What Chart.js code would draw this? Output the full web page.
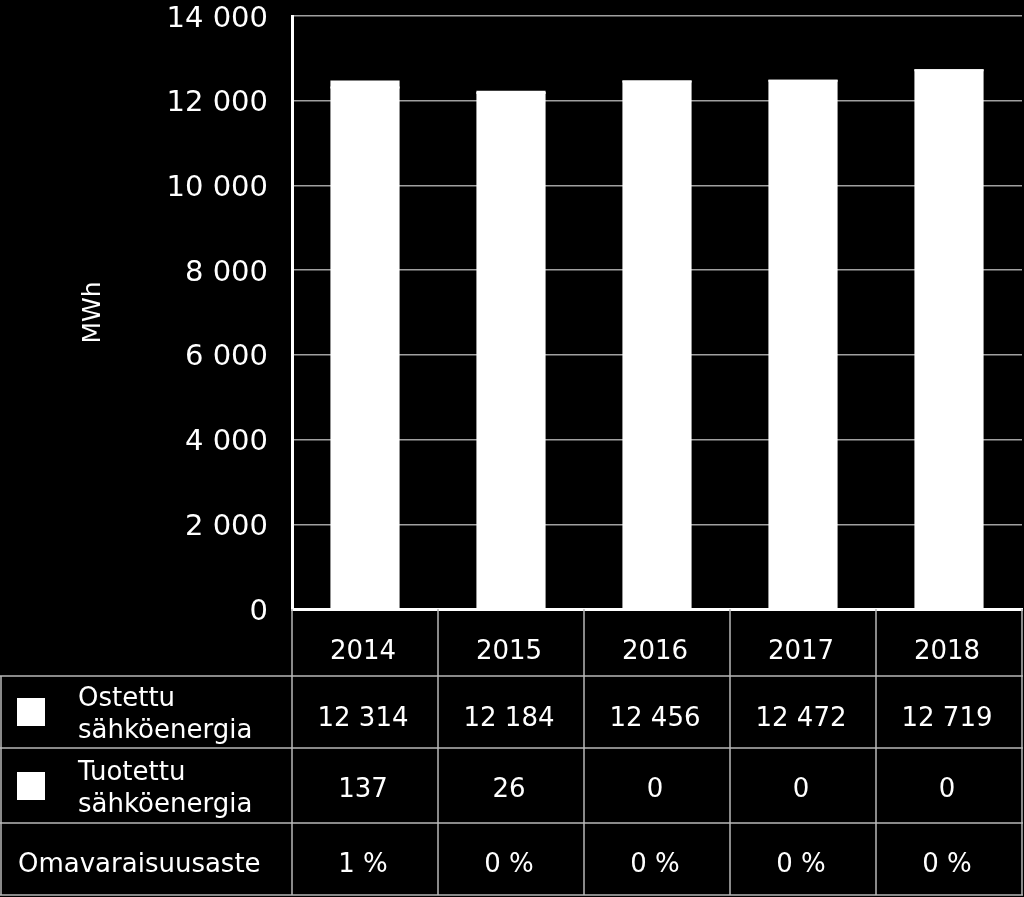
<!DOCTYPE html>
<html>
<head>
<meta charset="utf-8">
<script src="https://cdn.jsdelivr.net/npm/chart.js@4"></script>
<style>
html,body{margin:0;padding:0;background:#000;}
#wrap{width:1024px;height:897px;position:relative;}
</style>
</head>
<body>
<div id="wrap"><canvas id="c"></canvas></div>
<script>
const years = ['2014', '2015', '2016', '2017', '2018'];
const ostettu = [12314, 12184, 12456, 12472, 12719];
const tuotettu = [137, 26, 0, 0, 0];
const omavaraisuus = [1, 0, 0, 0, 0];
const yMin = 0, yMax = 14000, yStep = 2000;
const seriesLabels = [['Ostettu', 'sähköenergia'], ['Tuotettu', 'sähköenergia']];
const row3Label = 'Omavaraisuusaste';
const yTitle = 'MWh';

const FONT = 'DejaVu Sans';
function fmt(n) { return String(n).replace(/\B(?=(\d{3})+(?!\d))/g, ' '); }

const tablePlugin = {
  id: 'dataTable',
  afterDraw(chart) {
    const { ctx, chartArea: { left, right, bottom } } = chart;
    const x = chart.scales.x;
    const n = years.length;
    const cw = (right - left) / n;
    const rl = [bottom + 67, bottom + 139, bottom + 214, bottom + 286];
    ctx.save();
    ctx.strokeStyle = '#b8b8b8';
    ctx.lineWidth = 1.5;
    ctx.beginPath();
    rl.forEach(y => { ctx.moveTo(0, y); ctx.lineTo(right + 1, y); });
    for (let i = 0; i <= n; i++) {
      const vx = left + i * cw;
      ctx.moveTo(vx, bottom); ctx.lineTo(vx, rl[3]);
    }
    ctx.moveTo(1, rl[0]); ctx.lineTo(1, rl[3]);
    ctx.stroke();

    ctx.fillStyle = '#ffffff';
    ctx.textBaseline = 'middle';
    ctx.font = '26px "' + FONT + '"';
    ctx.textAlign = 'center';
    for (let i = 0; i < n; i++) {
      const cx = x.getPixelForValue(i) - 2;
      ctx.fillText(years[i], cx, bottom + 43);
      ctx.fillText(fmt(ostettu[i]), cx, bottom + 110);
      ctx.fillText(fmt(tuotettu[i]), cx, bottom + 181);
      ctx.fillText(omavaraisuus[i] + ' %', cx, bottom + 256);
    }
    ctx.textAlign = 'left';
    ctx.fillText(seriesLabels[0][0], 78, bottom + 90);
    ctx.fillText(seriesLabels[0][1], 78, bottom + 122);
    ctx.fillText(seriesLabels[1][0], 78, bottom + 164);
    ctx.fillText(seriesLabels[1][1], 78, bottom + 196);
    ctx.fillText(row3Label, 18, bottom + 256);
    ctx.fillRect(17, bottom + 89, 28, 28);
    ctx.fillRect(17, bottom + 163, 28, 28);
    ctx.restore();
  }
};

new Chart(document.getElementById('c'), {
  type: 'bar',
  data: {
    labels: years,
    datasets: [
      { label: seriesLabels[0].join(' '), data: ostettu, backgroundColor: '#ffffff', borderWidth: 0, inflateAmount: 1 },
      { label: seriesLabels[1].join(' '), data: tuotettu, backgroundColor: '#ffffff', borderWidth: 0, inflateAmount: 1 }
    ]
  },
  options: {
    responsive: true,
    maintainAspectRatio: false,
    animation: false,
    layout: { padding: { top: 16, right: 2, left: 0, bottom: 0 } },
    datasets: { bar: { barPercentage: 0.46, categoryPercentage: 1 } },
    plugins: { legend: { display: false }, tooltip: { enabled: false } },
    scales: {
      x: {
        stacked: true,
        grid: { display: false, drawTicks: false },
        border: { color: '#ffffff', width: 3 },
        ticks: { display: false },
        afterFit: s => { s.height = 288; s.paddingLeft = 0; s.paddingRight = 0; }
      },
      y: {
        stacked: true,
        min: yMin, max: yMax,
        ticks: {
          stepSize: yStep,
          color: '#ffffff',
          font: { family: FONT, size: 29 },
          padding: 24,
          labelOffset: 3,
          callback: v => fmt(v)
        },
        grid: { color: '#a0a0a0', lineWidth: 1.5, drawTicks: false },
        border: { color: '#ffffff', width: 3 },
        title: {
          display: true, text: yTitle, color: '#ffffff',
          font: { family: FONT, size: 25 },
          padding: { top: 78, bottom: 0 }
        },
        afterFit: s => { s.width = 292; s.paddingTop = 0; s.paddingBottom = 0; }
      }
    }
  },
  plugins: [tablePlugin]
});
</script>
</body>
</html>
